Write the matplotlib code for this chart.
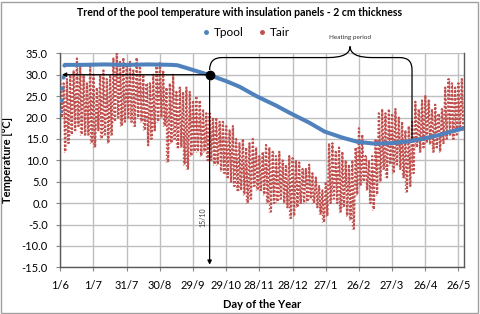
import matplotlib
matplotlib.use("Agg")
import matplotlib.pyplot as plt
from matplotlib.lines import Line2D
from matplotlib.path import Path
from matplotlib.patches import PathPatch, Rectangle

# ---------------- data ----------------
tick_days = [0, 30, 60, 90, 120, 150, 180, 210, 240, 270, 300, 330, 360]
tick_labels = ["1/6", "1/7", "31/7", "30/8", "29/9", "29/10", "28/11",
               "28/12", "27/1", "26/2", "27/3", "26/4", "26/5"]
y_ticks = [35, 30, 25, 20, 15, 10, 5, 0, -5, -10, -15]

pool_days = [0, 0.7, 1.4, 2.1, 3, 20, 40, 60, 80, 100, 106, 120, 135, 150,
             162, 178, 195, 208, 225, 239, 255, 269, 284, 299, 314, 329, 341,
             353, 365]
pool_temp = [21.5, 24.0, 27.0, 29.5, 32.3, 32.3, 32.4, 32.3, 32.4, 32.3,
             32.2, 31.1, 29.9, 28.5, 27.2, 24.9, 22.8, 21.0, 18.8, 16.7,
             15.3, 14.3, 13.9, 14.0, 14.4, 15.1, 15.8, 16.7, 17.5]

air_days = list(range(0, 364, 3))
air_max = [29, 28, 29, 30, 31, 33.8, 32, 30, 28, 32, 30, 27, 30, 31, 29, 30,
           34, 35, 33, 34, 32, 33, 31, 34, 32, 30, 28, 28, 30, 32, 33, 31,
           27, 28, 30, 26, 27, 26, 27, 26, 24, 25, 24, 22, 21, 21, 20, 20,
           19, 19, 18, 17, 18, 15, 14, 15, 13, 14, 15, 13, 11, 12, 13.6, 13,
           12, 11, 12, 10, 9, 11, 10.5, 10, 9.5, 8, 8, 9, 7, 6, 4, 3, 5, 14,
           14, 12, 13, 12, 10, 9, 10, 13, 17.5, 16, 11, 10, 11, 15, 21, 22,
           21, 22, 21, 22, 20, 19, 17, 18, 19, 23.7, 22, 24, 25.2, 24, 22,
           23, 21, 22, 27, 29, 28, 27, 28, 29]
air_min = [20, 12, 14, 16, 17, 18, 16, 16, 16, 14, 13, 17, 15, 16, 14, 16,
           19, 20, 18, 19, 20, 19, 18, 20, 19, 17, 13.5, 15, 17, 19, 20, 18,
           9.5, 14, 15, 13, 13, 9, 8, 11, 12, 12, 11, 12, 10, 10, 9, 9, 7.5,
           7, 6, 5, 4, 3, 3, 2, 0, 1, 4, 3, 3, 2, 0, -2, 0, 0.3, 1, 0, -1,
           -3.5, -3, -1, 0, 0, 0.3, 1, 0, -1, -2.5, -4.5, -3, 0, 1, 0, -2,
           -1, -3, -4, -6, 2, 4, 5, 3, 0, -1.5, 2, 5, 8, 6, 9, 7, 9, 8, 6,
           2.7, 4, 7, 13, 12, 13, 14, 13.7, 12, 13, 12, 14, 15, 16, 15, 16,
           17, 17]

heat_start_day = 135
heat_start_temp = 30.0
heat_end_day = 318

# ---------------- figure ----------------
BLUE = "#4F81BD"
RED = "#C0504D"
plt.rcParams["font.family"] = ["Lato", "DejaVu Sans"]

fig = plt.figure(figsize=(4.8, 3.14), dpi=100)
ax = fig.add_axes([60.3 / 480, 1 - 267.3 / 314, (464 - 60.3) / 480,
                   (267.3 - 53.3) / 314])

ax.set_xlim(0, 365)
ax.set_ylim(-15, 35)
ax.set_xticks(tick_days)
ax.set_xticklabels(tick_labels)
ax.set_yticks(y_ticks)
ax.set_yticklabels([f"{v:.1f}" for v in y_ticks])
ax.tick_params(labelsize=8, length=3, color="#868686", pad=6,
               labelcolor="black")
ax.grid(True, color="#BFBFBF", linewidth=1.0)
ax.set_axisbelow(True)
for s in ["left", "bottom", "right"]:
    ax.spines[s].set_color("#595959")
    ax.spines[s].set_linewidth(1.0)
ax.spines["top"].set_visible(False)

# Tair as dotted daily zig-zag between min and max
zx, zy = [], []
for d, hi, lo in zip(air_days, air_max, air_min):
    zx += [d, d + 1.5]
    zy += [hi, lo]
ax.plot(zx, zy, color=RED, lw=1.5, linestyle=(0, (1.0, 0.9)), zorder=2)
ax.vlines(air_days, air_min, air_max, color=RED, lw=1.0,
          linestyle=(0.5, (1.0, 1.6)), zorder=2)

# Tpool: warm-up as small dots, then the thick band
ax.plot(pool_days[:5], pool_temp[:5], "o", color=BLUE, markersize=2,
        zorder=3)
ax.plot(pool_days[4:], pool_temp[4:], color=BLUE, lw=2.9, zorder=3,
        solid_capstyle="butt")

# start of heating marker and arrows
ax.plot([heat_start_day], [heat_start_temp], "o", color="black",
        markersize=6, zorder=5)
ax.annotate("", xy=(1.5, heat_start_temp),
            xytext=(heat_start_day, heat_start_temp),
            arrowprops=dict(arrowstyle="-|>", color="black", lw=0.9,
                            mutation_scale=6, shrinkA=0, shrinkB=0),
            zorder=4)
ax.annotate("", xy=(heat_start_day, -14.4),
            xytext=(heat_start_day, heat_start_temp),
            arrowprops=dict(arrowstyle="-|>", color="black", lw=0.9,
                            mutation_scale=6, shrinkA=0, shrinkB=0),
            zorder=4)
ax.text(heat_start_day - 6, -3.2, "15/10", rotation=90, fontsize=5,
        ha="center", va="center", color="#404040")

# curly brace for heating period
tip = 262
verts = [(heat_start_day, 31.1), (heat_start_day, 34.0), (146, 34.0),
         (242, 34.0),
         (tip, 34.0), (tip, 36.6),
         (tip, 34.0), (282, 34.0),
         (307, 34.0),
         (heat_end_day, 34.0), (heat_end_day, 31.2),
         (heat_end_day, 15.1)]
codes = [Path.MOVETO, Path.CURVE3, Path.CURVE3, Path.LINETO,
         Path.CURVE3, Path.CURVE3, Path.CURVE3, Path.CURVE3,
         Path.LINETO, Path.CURVE3, Path.CURVE3, Path.LINETO]
ax.add_patch(PathPatch(Path(verts, codes), fill=False, edgecolor="black",
                       lw=0.9, clip_on=False, zorder=4))
ax.text(tip, 38.6, "Heating period", fontsize=4.6, ha="center",
        va="center", color="#303030")

# labels and title
ax.set_xlabel("Day of the Year", fontsize=8, fontweight="bold", labelpad=6)
ax.set_ylabel("Temperature [°C]", fontsize=8, fontweight="bold", labelpad=6)
fig.text(0.5, 1 - 13 / 314, "Trend of the pool temperature with insulation "
         "panels - 2 cm thickness", fontsize=7.6, fontweight="bold",
         ha="center", va="center")

handles = [Line2D([], [], marker="o", ls="none", color=BLUE, markersize=2.5),
           Line2D([], [], marker="o", ls="none", color=RED, markersize=2.5)]
fig.legend(handles, ["Tpool", "Tair"], loc="center",
           bbox_to_anchor=(245 / 480, 1 - 33 / 314), ncol=2, frameon=False,
           fontsize=8.5, handletextpad=0.2, columnspacing=1.0,
           handlelength=1.0)

fig.patches.append(Rectangle((1 / 480, 1 / 314), 477 / 480, 311 / 314,
                             transform=fig.transFigure, fill=False,
                             edgecolor="#A0A0A0", lw=1.0))

fig.savefig("out.png", dpi=100)
